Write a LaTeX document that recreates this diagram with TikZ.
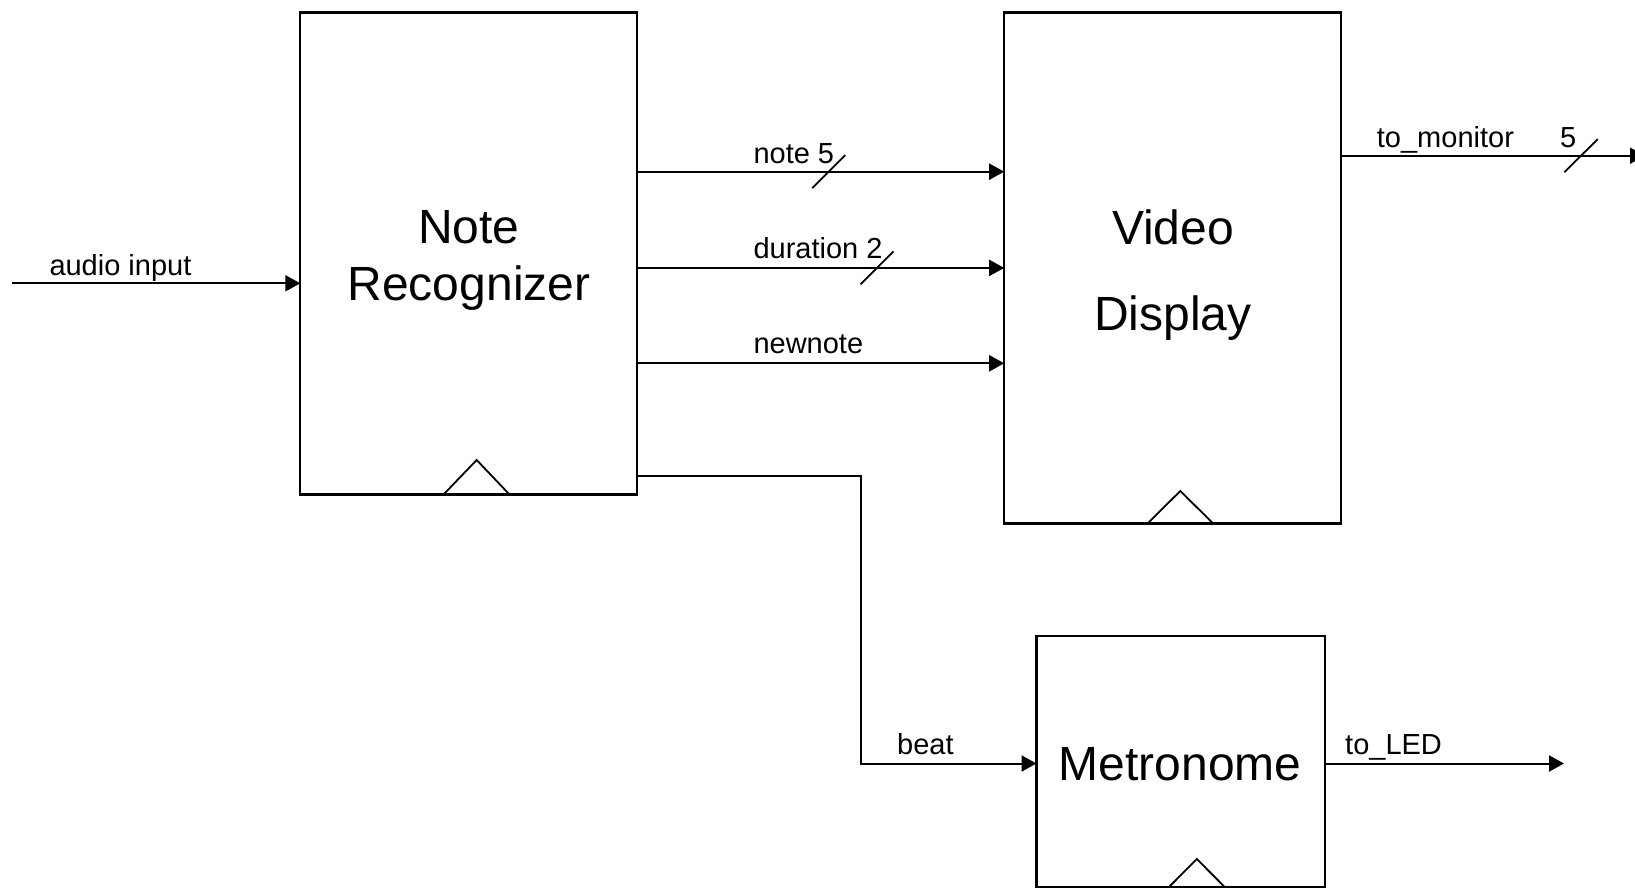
\documentclass[tikz,border=0pt]{standalone}
\usepackage{fontspec}
\setmainfont{Liberation Sans}
\usetikzlibrary{arrows.meta}
\begin{document}
\begin{tikzpicture}[x=1pt,y=-1pt,
  block/.style={draw, line width=2.2pt, inner sep=0pt, outer sep=0pt},
  wire/.style={line width=2pt, -{Triangle[length=15pt,width=16pt]}},
  busslash/.style={line width=1.8pt},
  clk/.style={line width=1.8pt},
  lbl/.style={anchor=base west, inner sep=0pt, font=\fontsize{29}{35}\selectfont},
  ttl/.style={anchor=base, inner sep=0pt, align=center}]
\useasboundingbox (0,0) rectangle (1635,888);
% blocks
\node[block, anchor=north west, minimum width=336.8pt, minimum height=482pt] (nr) at (300.3,12.5) {};
\node[block, anchor=north west, minimum width=336.8pt, minimum height=511pt] (vd) at (1004.2,12.5) {};
\node[block, anchor=north west, minimum width=288.5pt, minimum height=251pt] (met) at (1036.5,636) {};
% titles
\node[ttl, font=\fontsize{48}{57}\selectfont] (nrt) at (469,300) {Note\\Recognizer};
\node[ttl, font=\fontsize{48}{86}\selectfont] (vdt) at (1173,330) {Video\\Display};
\node[ttl, font=\fontsize{48}{57}\selectfont] (mett) at (1180,780) {Metronome};
% clock triangles
\draw[clk] (444,494) -- (476.7,460) -- (509,494);
\draw[clk] (1148,523) -- (1180.3,491) -- (1212.7,523);
\draw[clk] (1169,887) -- (1196.8,859) -- (1224.7,887);
% input
\coordinate (ain) at (11.7,283.3);
\draw[wire] (ain) -- (nr.west |- ain);
\node[lbl] (ainl) at (49.3,275) {audio input};
% NR -> VD
\draw[wire] (nr.east |- 0,171.7) -- (vd.west |- 0,171.7);
\draw[wire] (nr.east |- 0,267.9) -- (vd.west |- 0,267.9);
\draw[wire] (nr.east |- 0,363.3) -- (vd.west |- 0,363.3);
\node[lbl] (notel) at (753.3,163.5) {note 5};
\node[lbl] (durl) at (753.3,258) {duration 2};
\node[lbl] (newl) at (753.3,353.5) {newnote};
\draw[busslash] (812.2,188.2) -- (845.2,155.2);
\draw[busslash] (860.5,284.4) -- (893.5,251.4);
% to_monitor
\coordinate (tm) at (1645,155.7);
\draw[wire] (vd.east |- tm) -- (tm);
\node[lbl] (tml) at (1376.7,147) {to\_monitor};
\node[lbl] (tm5) at (1560,147) {5};
\draw[busslash] (1564.3,172.2) -- (1597.7,139.2);
% beat
\coordinate (bt1) at (861,475.7);
\coordinate (bt2) at (861,763.5);
\draw[wire] (nr.east |- bt1) -- (bt1) -- (bt2) -- (met.west |- bt2);
\node[lbl] (beatl) at (897,754) {beat};
% to_LED
\coordinate (led) at (1564,763.5);
\draw[wire] (met.east |- led) -- (led);
\node[lbl] (ledl) at (1345,754) {to\_LED};
\end{tikzpicture}
\end{document}
